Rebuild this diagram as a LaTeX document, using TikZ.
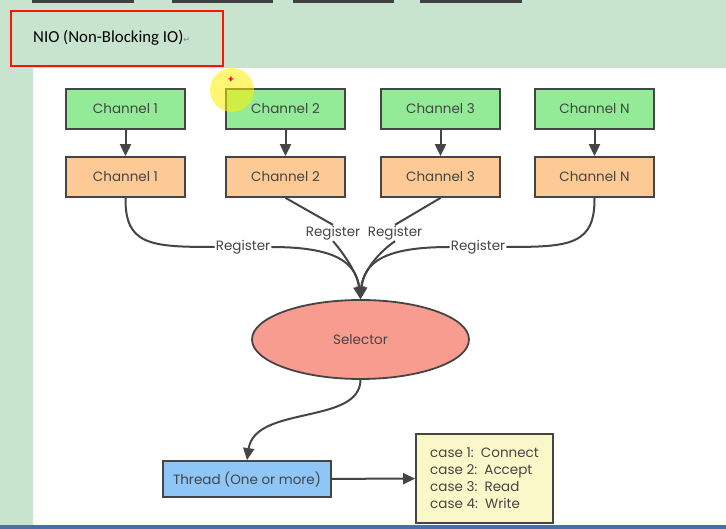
\documentclass[tikz,border=0pt]{standalone}
\usepackage{fontspec}
\setmainfont{Poppins}
\newfontfamily\titlefont{Carlito}
\newfontfamily\symfont{DejaVu Sans}
\usetikzlibrary{arrows.meta,shapes.geometric}

\definecolor{pagegreen}{HTML}{C8E4CF}
\definecolor{chgreen}{HTML}{93EA97}
\definecolor{chorange}{HTML}{FDCA96}
\definecolor{selred}{HTML}{F99C90}
\definecolor{thrblue}{HTML}{8EC6F7}
\definecolor{caseyellow}{HTML}{FAF8C8}
\definecolor{edge}{HTML}{454545}
\definecolor{barblue}{HTML}{4A6FA8}

\begin{document}
\begin{tikzpicture}[x=1pt, y=-1pt,
  box/.style={draw=edge, line width=1.8pt, minimum width=119pt, minimum height=40pt,
    font=\fontsize{13.5}{16}\selectfont, text=edge},
  green box/.style={box, fill=chgreen},
  orange box/.style={box, fill=chorange},
  lbl/.style={inner sep=1pt, font=\fontsize{13.5}{16}\selectfont, text=edge},
  link/.style={draw=edge, line width=2pt, -{Triangle[length=12pt,width=11pt]}},
  wire/.style={draw=edge, line width=2pt}]
  \useasboundingbox (0,0) rectangle (726,529);
  % page
  \fill[pagegreen] (0,0) rectangle (726,529);
  \fill[white] (33,68) rectangle (726,525);
  \fill[barblue] (0,525) rectangle (726,529);
  \foreach \a/\b in {32/134, 172/273, 293/394, 420/522}
    \fill[black!75] (\a,0) rectangle (\b,3);
  % title
  \draw[red!85!orange, line width=1.8pt] (11,11) rectangle (223,66);
  \node[anchor=west, inner sep=0pt, font=\titlefont\fontsize{16.8}{20}\selectfont] (title) at (33,38)
    {NIO (Non-Blocking IO)\textcolor{gray}{\symfont\fontsize{8}{9}\selectfont ↵}};
  % channels
  \foreach \n/\x/\t in {1/125.5/1, 2/285.5/2, 3/440.5/3, 4/594.5/N}
  {
    \node[green box] (c\n) at (\x,109) {Channel \t};
    \node[orange box] (o\n) at (\x,177) {Channel \t};
    \draw[link] (c\n) -- (o\n);
  }
  \node[ellipse, draw=edge, line width=1.8pt, fill=selred, minimum width=217pt, minimum height=79pt,
    font=\fontsize{13.5}{16}\selectfont, text=edge] (sel) at (360.5,339.5) {Selector};
  % register links
  \node[lbl] (r1) at (243,247) {Register};
  \node[lbl] (r2) at (333,233) {Register};
  \node[lbl] (r3) at (395,233) {Register};
  \node[lbl] (r4) at (478,247) {Register};
  \draw[wire] (o1.south) .. controls (125,245) and (150,247) .. (r1.west);
  \draw[link] (r1.east) .. controls (335,247) and (356,262) .. (sel.north);
  \draw[wire] (o2.south) -- (r2.north);
  \draw[link] (r2.south) .. controls (345,255) and (358,275) .. (sel.north);
  \draw[wire] (o3.south) -- (r3.north);
  \draw[link] (r3.south) .. controls (375,255) and (362,275) .. (sel.north);
  \draw[wire] (o4.south) .. controls (595,245) and (570,247) .. (r4.east);
  \draw[link] (r4.west) .. controls (385,247) and (364,262) .. (sel.north);
  % thread and cases
  \node[box, fill=thrblue, minimum width=168pt, minimum height=36pt] (thr) at (247,479) {Thread (One or more)};
  \node[box, fill=caseyellow, minimum width=137pt, minimum height=89pt, align=left,
    font=\fontsize{13.5}{17}\selectfont] (cases) at (484.5,478.5)
    {case 1:\ \ Connect\\case 2:\ \ Accept\\case 3:\ \ Read\\case 4:\ \ Write};
  \draw[link] (sel.south) .. controls (360,425) and (255,405) .. (thr.north);
  \draw[link] (thr) -- (cases);
  % cursor highlight
  \fill[yellow, opacity=.55] (232,90) circle (22);
  \node[red, font=\bfseries\small] (cur) at (231,80) {+};
\end{tikzpicture}
\end{document}
